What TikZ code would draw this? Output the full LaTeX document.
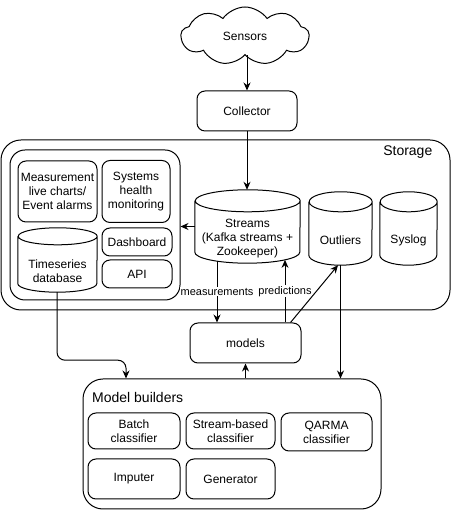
\documentclass[tikz,border=0pt]{standalone}
\usepackage{fontspec}
\setmainfont{Liberation Sans}
\usetikzlibrary{arrows.meta,shapes.symbols}
\newcommand\cylshape[3]{%
  \draw[line width=1pt] ([yshift=-#3pt]#1.north west) -- ([yshift=#3pt]#1.south west)
    arc[start angle=180,end angle=360,x radius=#2pt,y radius=#3pt]
    -- ([yshift=-#3pt]#1.north east)
    arc[start angle=0,end angle=360,x radius=#2pt,y radius=#3pt];}
\begin{document}
\begin{tikzpicture}[x=1pt,y=1pt,
  every node/.style={font=\fontsize{12}{14}\selectfont, align=center, inner sep=0pt},
  box/.style={draw, rounded corners=8pt, line width=1pt},
  group/.style={draw, rounded corners=20pt, line width=1pt},
  cyl/.style={inner sep=0pt},
  arr/.style={line width=1pt, -{Stealth[length=8pt,width=7pt]}},
  lbl/.style={fill=white, font=\fontsize{11}{13}\selectfont, inner sep=1pt},
  big/.style={font=\fontsize{14}{16}\selectfont}
]
\useasboundingbox (0,0) rectangle (451,510);

% top
\node[cloud, draw, line width=1pt, cloud puffs=9, cloud puff arc=110, aspect=2.2, minimum width=128pt, minimum height=58pt] (sensors) at (245,474) {Sensors};
\node[box, minimum width=100pt, minimum height=40pt] (collector) at (247,399) {Collector};

% storage
\node[group, minimum width=449pt, minimum height=170pt] (storage) at (225.5,285) {};
\node[big, anchor=east] (storageT) at ([xshift=-18pt,yshift=-13pt]storage.north east) {Storage};
\node[draw, line width=1pt, rounded corners=15pt, minimum width=170pt, minimum height=150pt] (ui) at (95,285) {};
\node[box, minimum width=79pt, minimum height=61pt] (meas) at (57.5,318.5) {Measurement\\live charts/\\Event alarms};
\node[box, minimum width=68pt, minimum height=62pt] (sys) at (136,318.5) {Systems\\health\\monitoring};
\node[box, minimum width=70pt, minimum height=28pt] (dash) at (137,268) {Dashboard};
\node[box, minimum width=70pt, minimum height=28pt] (api) at (137,236) {API};

\node[cyl, minimum width=79pt, minimum height=64pt] (ts) at (57.5,250) {};
\cylshape{ts}{39.5}{8.5}
\node (tsT) at (57.5,238.5) {Timeseries\\database};

\node[cyl, minimum width=105pt, minimum height=73pt] (streams) at (247.5,283.5) {};
\cylshape{streams}{52.5}{11}
\node (streamsT) at (247.5,271) {Streams\\(Kafka streams +\\Zookeeper)};

\node[cyl, minimum width=63pt, minimum height=73pt] (outliers) at (340.5,281.5) {};
\cylshape{outliers}{31.5}{10}
\node (outliersT) at (340.5,270) {Outliers};

\node[cyl, minimum width=57pt, minimum height=73pt] (syslog) at (408.5,281.5) {};
\cylshape{syslog}{28.5}{10}
\node (syslogT) at (408.5,270) {Syslog};

% models
\node[box, minimum width=111pt, minimum height=40pt] (models) at (245.5,167) {models};

% model builders
\node[group, minimum width=298pt, minimum height=130pt] (mb) at (232,66) {};
\node[big, anchor=west] (mbT) at (92,113) {Model builders};
\node[box, minimum width=92pt, minimum height=36pt] (batch) at (134,79) {Batch\\classifier};
\node[box, minimum width=89pt, minimum height=36pt] (sbc) at (230.5,79) {Stream-based\\classifier};
\node[box, minimum width=91pt, minimum height=38pt] (qarma) at (326.5,78) {QARMA\\classifier};
\node[box, minimum width=92pt, minimum height=40pt] (imp) at (134,31) {Imputer};
\node[box, minimum width=89pt, minimum height=40pt] (gen) at (230.5,31) {Generator};

% connectors
\draw[arr] (sensors.south -| collector.north) -- (collector.north);
\draw[arr] (collector.south) -- (collector.south |- streams.north);
\draw[arr] (streams.west) -- (streams.west -| ui.east);
\draw[arr] ([xshift=-30.5pt,yshift=2pt]streams.south) -- node[lbl]{measurements} ([xshift=-30.5pt]streams.south |- models.north);
\draw[arr] ([xshift=39.5pt]models.north) -- node[lbl]{predictions} ([xshift=37.5pt,yshift=3.3pt]streams.south);
\draw[arr] ([xshift=-11pt]models.north east) -- ([xshift=-2.5pt]outliers.south);
\draw[arr] (outliers.south) -- (outliers.south |- mb.north);
\draw[arr, rounded corners=8pt] ([xshift=-0.5pt]ts.south) -- ++(0,-68) -| ([xshift=-106pt]mb.north);
\draw[arr] (models.south |- mb.north) -- (models.south);
\end{tikzpicture}
\end{document}
